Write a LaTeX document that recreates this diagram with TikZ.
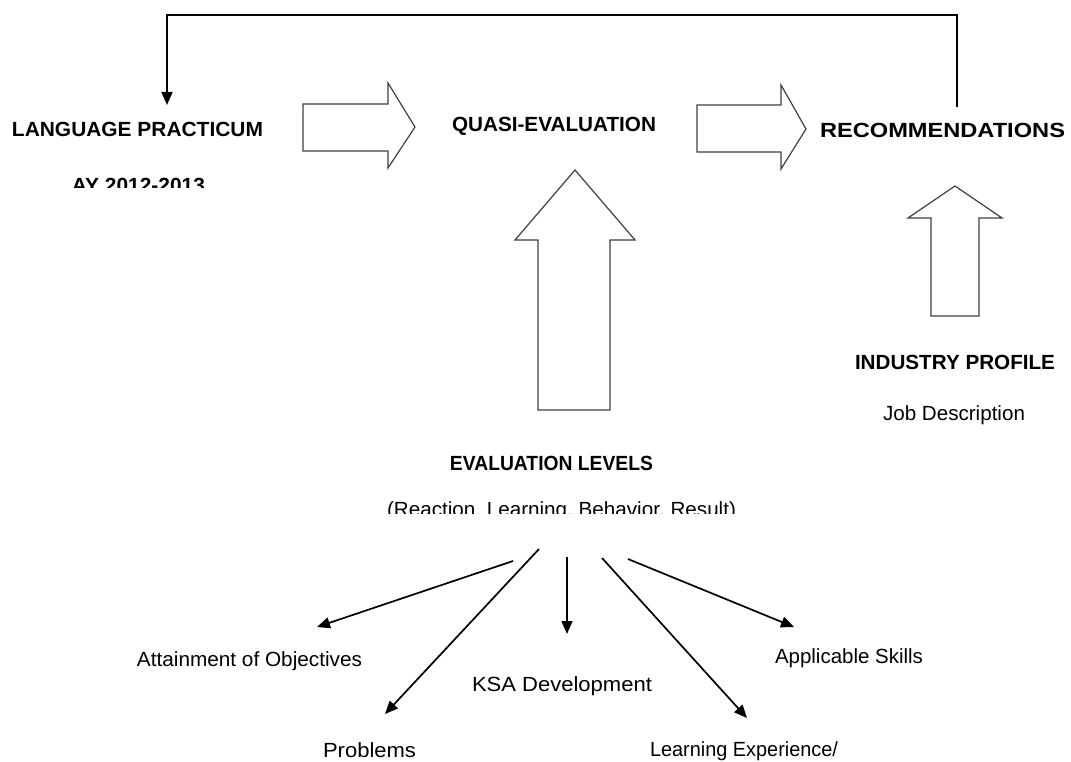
\documentclass[tikz,border=0pt]{standalone}
\usepackage{fontspec}
\setmainfont{Liberation Sans}
\usetikzlibrary{arrows.meta}
\newcommand{\fw}[2]{\resizebox{#1pt}{\height}{#2}}
\begin{document}
\begin{tikzpicture}[x=1pt,y=-1pt,
  hd/.style={font=\fontsize{20.5}{24}\selectfont\bfseries, inner sep=0pt, anchor=base},
  tx/.style={font=\fontsize{20.5}{24}\selectfont, inner sep=0pt, anchor=base},
  conn/.style={line width=1.7pt, -{Triangle[length=13pt,width=11pt]}},
  blk/.style={line width=1.2pt, draw=black!75, fill=white, line join=miter}]
\fill[white] (0,0) rectangle (1071,762);
\useasboundingbox (0,0) rectangle (1071,762);
% texts
\node[hd] (lp) at (137.5,137) {\fw{251}{LANGUAGE PRACTICUM}};
\begin{scope}
  \clip (0,170) rectangle (400,188);
  \node[hd] (ay) at (138.5,193) {\fw{133}{AY 2012-2013}};
\end{scope}
\node[hd] (qe) at (554,132) {\fw{204}{QUASI-EVALUATION}};
\node[hd] (rec) at (942.5,138) {\fw{245}{RECOMMENDATIONS}};
\node[hd] (ip) at (955,369) {\fw{200}{INDUSTRY PROFILE}};
\node[tx] (jd) at (954,420) {\fw{142}{Job Description}};
\node[hd] (el) at (551.5,470) {\fw{203}{EVALUATION LEVELS}};
\begin{scope}
  \clip (300,490) rectangle (800,513);
  \node[tx] (rl) at (561.5,516) {\fw{349}{(Reaction, Learning, Behavior, Result)}};
\end{scope}
\node[tx] (ao) at (249.5,666) {\fw{225}{Attainment of Objectives}};
\node[tx] (ksa) at (562,691) {\fw{180}{KSA Development}};
\node[tx] (as) at (849,663) {\fw{148}{Applicable Skills}};
\node[tx] (pr) at (369.5,757) {\fw{93}{Problems}};
\node[tx] (le) at (744,756) {\fw{188}{Learning Experience/}};
% block arrows
\draw[blk] (303,104) -- (388,104) -- (388,83) -- (415,127) -- (388,168) -- (388,151) -- (303,151) -- cycle;
\draw[blk] (697,105) -- (781,105) -- (781,85) -- (806,129) -- (781,169) -- (781,152) -- (697,152) -- cycle;
\draw[blk] (538,410) -- (538,240) -- (515,240) -- (575,170) -- (635,240) -- (610,240) -- (610,410) -- cycle;
\draw[blk] (931,316) -- (931,218) -- (908,218) -- (955,186) -- (1002,218) -- (979,218) -- (979,316) -- cycle;
% feedback connector
\coordinate (fbS) at (957,107);
\coordinate (fbC) at (957,15);
\coordinate (fbT) at (167,105);
\draw[conn] (fbS) -- (fbC) -| (fbT);
% fan connectors
\coordinate (a1s) at (513,561); \coordinate (a1e) at (317,627);
\coordinate (a2s) at (539,549); \coordinate (a2e) at (385,714);
\coordinate (a3s) at (567,557); \coordinate (a3e) at (567,634);
\coordinate (a4s) at (602,558); \coordinate (a4e) at (747,718);
\coordinate (a5s) at (628,559); \coordinate (a5e) at (794,627);
\draw[conn] (a1s) -- (a1e);
\draw[conn] (a2s) -- (a2e);
\draw[conn] (a3s) -- (a3e);
\draw[conn] (a4s) -- (a4e);
\draw[conn] (a5s) -- (a5e);
\end{tikzpicture}
\end{document}
